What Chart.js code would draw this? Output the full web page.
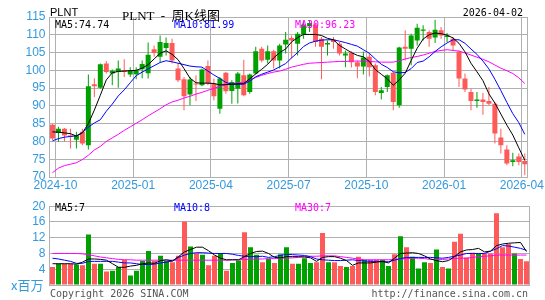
<!DOCTYPE html>
<html lang="zh-CN">
<head>
<meta charset="UTF-8" />
<title>PLNT 周K线图</title>
<script src="https://cdn.jsdelivr.net/npm/chart.js"></script>
<style>
  html, body { margin: 0; padding: 0; background: #fff; }
  #box { position: relative; width: 545px; height: 300px; overflow: hidden; }
  #box canvas { position: absolute; left: 0; }
  #kline { top: 0; }
  #vol { top: 195px; }
  .txt { position: absolute; white-space: pre; line-height: 1; font: 10px 'DejaVu Sans Mono', monospace; color: #000; }
  .blue { color: #0000ff; }
  .pink { color: #ff00ff; }
  .grey { color: #555; }
</style>
</head>
<body>
<div id="box">
  <canvas id="kline" width="545" height="195"></canvas>
  <canvas id="vol" width="545" height="105"></canvas>

  <div class="txt" style="left:50px; top:6px; font:11px 'Liberation Sans', sans-serif;">PLNT</div>
  <div class="txt" style="left:122px; top:4.5px; font:13px 'Liberation Serif', 'Noto Sans CJK SC', serif;">PLNT  -  周K线图</div>
  <div class="txt" style="right:22px; top:6.5px;">2026-04-02</div>

  <div class="txt" style="left:55px; top:19px;">MA5:74.74</div>
  <div class="txt blue" style="left:174px; top:19px;">MA10:81.99</div>
  <div class="txt pink" style="left:295px; top:19px;">MA30:96.23</div>

  <div class="txt" style="left:55px; top:201.5px;">MA5:7</div>
  <div class="txt blue" style="left:174px; top:201.5px;">MA10:8</div>
  <div class="txt pink" style="left:295px; top:201.5px;">MA30:7</div>

  <div class="txt" style="left:11px; top:275px; font:13px 'Noto Sans CJK SC', sans-serif; color:#3399dd;">x百万</div>
  <div class="txt grey" style="left:50px; top:287.5px;">Copyright 2026 SINA.COM</div>
  <div class="txt grey" style="right:17px; top:287.5px;">http://finance.sina.com.cn</div>
</div>

<script>
  // weekly candles, 2024-09-27 .. 2026-04-02 (one entry per week)
  const opens  = [84.7,82.4,83.6,81.7,80.5,82.7,78.9,96.1,95.1,101.9,
                  99.1,99.5,100.0,98.8,98.9,100.3,99.2,105.9,103.8,106.3,
                  107.7,100.5,97.5,93.2,96.3,95.8,101.2,96.3,89.2,99.3,
                  94.2,94.8,98.6,93.9,99.1,106.1,103.0,105.4,102.8,107.3,
                  109.1,107.5,110.1,112.4,112.9,108.9,107.3,108.6,107.5,104.2,
                  104.9,102.3,101.1,103.8,101.4,93.6,95.3,99.3,90.2,106.6,
                  106.1,108.4,111.1,110.8,109.2,111.3,109.4,108.9,105.2,97.7,
                  93.9,91.4,91.8,91.4,90.6,81.1,77.7,74.2,75.8,74.5];
  const highs  = [84.9,84.1,83.8,83.6,82.7,83.6,98.8,97.8,101.9,102.6,
                  100.2,102.8,103.1,100.9,100.9,102.8,107.8,107.0,109.8,109.2,
                  108.9,102.0,98.1,98.1,98.6,100.5,102.8,97.7,98.1,99.5,
                  97.2,99.5,103.0,99.1,106.6,106.6,107.0,105.8,107.5,110.8,
                  109.8,110.8,113.6,114.0,113.3,109.4,108.4,109.4,108.0,105.6,
                  105.4,102.8,105.3,104.9,101.9,95.3,98.8,99.5,106.6,111.3,
                  110.3,113.1,112.7,111.3,114.2,112.2,110.5,109.4,105.6,99.1,
                  94.8,93.9,93.6,95.3,91.1,83.6,78.9,76.8,76.6,76.6];
  const lows   = [80.5,79.9,79.9,78.0,78.0,78.9,77.7,92.5,94.8,99.1,
                  95.8,95.1,98.1,98.1,97.5,97.8,97.7,103.8,102.3,104.2,
                  101.9,96.7,88.8,90.2,91.4,95.5,95.8,91.6,87.8,93.4,
                  90.6,90.7,92.7,93.4,98.8,102.3,101.9,100.5,100.5,104.7,
                  103.3,104.2,108.9,110.8,106.6,97.5,104.2,106.1,104.2,100.9,
                  100.8,97.8,98.8,98.3,93.0,91.8,93.9,88.8,89.5,102.8,
                  101.4,107.0,108.4,106.6,107.7,108.9,108.0,105.6,95.3,93.9,
                  88.8,89.5,87.5,90.2,79.4,76.6,73.3,73.0,73.3,70.5];
  const closes = [80.8,83.6,81.7,81.3,81.7,79.4,95.5,95.5,101.7,99.5,
                  99.9,100.5,99.5,100.0,100.0,101.8,104.4,104.9,108.0,107.7,
                  102.8,97.2,92.7,97.4,96.0,100.2,96.3,92.7,97.7,94.1,
                  96.7,99.1,93.0,98.8,105.4,102.8,105.4,102.8,107.0,108.6,
                  108.4,110.3,112.9,113.3,108.0,106.6,107.7,108.0,104.7,104.7,
                  102.3,101.1,103.6,100.9,93.9,94.4,98.6,91.1,106.4,106.1,
                  109.8,112.0,111.5,108.9,111.4,109.8,109.8,107.0,97.7,94.6,
                  91.4,91.8,91.1,90.6,82.2,78.9,73.8,74.7,74.2,73.6];

  // moving averages as drawn on the picture
  const ma5  = [82.7,82.6,82.4,82.2,81.5,82.4,85.0,88.8,93.0,97.3,
                99.3,99.7,99.8,99.9,100.0,100.6,101.6,103.2,104.8,105.5,
                104.5,103.0,100.5,97.8,96.5,96.4,96.4,96.3,95.9,96.0,
                96.1,96.2,96.3,97.6,99.0,100.3,101.7,103.5,105.0,106.0,
                108.0,109.2,110.1,110.1,110.1,109.8,109.0,108.6,107.0,106.0,
                105.0,104.2,103.8,102.5,100.2,98.9,97.6,95.8,97.3,99.2,
                102.8,106.2,108.8,110.0,110.5,110.3,109.9,109.1,107.6,105.2,
                102.0,99.6,97.1,93.4,90.8,87.7,84.6,81.8,78.2,74.7];
  const ma10 = [80.2,80.8,81.2,81.4,81.6,82.5,84.0,85.2,86.1,88.5,
                90.5,92.8,94.5,96.5,98.5,99.5,100.4,101.3,102.2,102.7,
                102.4,102.0,101.6,101.2,101.0,100.9,99.8,98.7,97.7,96.6,
                96.1,96.1,96.1,97.0,98.2,98.9,99.5,100.1,101.0,101.9,
                103.5,105.0,106.7,107.7,108.2,108.5,108.6,108.6,108.2,107.8,
                107.3,106.8,105.8,104.8,103.2,101.7,100.8,99.6,99.3,99.4,
                100.5,102.2,102.6,103.8,105.3,106.6,107.7,108.6,108.6,107.6,
                106.0,104.5,102.6,100.4,97.5,94.3,91.0,87.8,85.3,82.0];
  const ma30 = [71.2,72.5,73.2,73.6,74.0,74.9,76.1,77.6,78.6,80.0,
                81.0,82.0,83.1,84.1,85.1,86.1,87.2,88.2,89.2,90.3,
                91.1,91.6,92.2,92.7,93.3,93.8,94.4,94.9,95.5,95.9,
                96.2,96.5,96.6,97.2,98.0,98.6,99.1,99.5,99.8,100.3,
                100.9,101.3,101.7,102.0,102.1,102.2,102.3,102.4,102.5,102.5,
                102.6,102.6,102.6,102.5,102.4,102.3,102.3,102.3,102.7,103.2,
                103.6,103.9,104.3,104.8,105.3,105.6,105.8,105.6,105.4,104.9,
                104.3,103.7,103.1,102.4,101.5,100.6,99.9,99.1,97.9,96.3];

  // weekly volume, millions of shares
  const volume = [4.6,5.4,5.4,5.4,5.2,5.0,12.8,5.4,5.4,3.4,
                  3.6,4.6,6.4,2.4,3.6,6.1,8.6,6.1,7.4,6.1,
                  5.8,7.4,16.1,9.8,8.1,7.7,5.0,7.4,8.1,3.6,
                  5.6,6.2,13.4,9.6,7.7,5.8,6.6,5.6,7.8,9.6,
                  5.4,5.4,6.8,5.6,5.8,13.2,5.8,5.8,4.8,4.6,
                  4.8,7.2,6.4,6.4,6.4,6.4,4.8,7.8,12.4,9.6,
                  7.2,4.2,5.8,5.6,9.0,4.6,4.2,11.0,13.0,7.0,
                  8.2,8.0,8.0,8.0,18.2,9.6,10.4,8.0,6.6,6.0];
  const vma5  = [5.4,5.4,5.4,5.4,5.3,5.8,6.6,6.6,6.5,6.3,
                 5.4,4.5,4.5,4.8,5.0,5.4,5.6,5.5,6.2,6.4,
                 6.1,7.2,8.4,9.0,9.6,9.6,8.7,7.6,6.8,6.4,
                 6.4,6.4,7.2,8.0,8.5,8.6,8.0,7.0,6.9,7.2,
                 7.2,7.2,7.1,6.9,6.0,7.0,7.2,7.2,6.8,6.2,
                 5.0,5.6,5.6,5.6,5.8,6.0,5.6,6.8,8.0,8.1,
                 8.2,8.0,7.4,6.6,6.2,5.9,6.2,7.2,8.4,8.9,
                 9.0,9.3,8.4,8.6,10.0,10.4,10.6,10.7,10.8,8.5];
  const vma10 = [6.8,6.6,6.3,6.0,5.5,5.5,6.0,6.0,6.0,6.0,
                 6.0,5.8,5.6,5.6,5.4,5.2,5.2,5.3,5.6,5.8,
                 6.1,7.0,7.6,8.0,8.2,8.2,8.1,8.0,8.0,8.0,
                 7.8,7.5,7.3,7.2,7.2,7.3,7.0,7.2,7.5,7.8,
                 7.7,7.6,7.5,7.2,6.6,6.4,6.3,6.2,6.2,6.3,
                 6.4,6.2,6.1,6.0,6.0,5.9,5.9,6.3,6.7,7.0,
                 7.0,7.0,7.0,7.0,6.9,6.8,7.0,7.3,7.6,8.0,
                 8.0,8.0,8.0,8.6,9.2,10.0,9.9,9.6,9.3,8.8];
  const vma30 = [8.0,8.0,8.0,8.0,8.0,7.9,7.7,7.4,7.1,6.9,
                 6.7,6.5,6.4,6.4,6.3,6.3,6.3,6.3,6.3,6.3,
                 6.3,6.3,6.3,6.3,6.3,6.3,6.3,6.3,6.3,6.3,
                 6.4,6.4,6.5,6.5,6.6,6.6,6.7,6.7,6.8,6.8,
                 6.9,7.0,7.2,7.3,7.3,7.4,7.4,7.4,7.2,7.0,
                 6.8,6.6,6.4,6.4,6.4,6.4,6.4,6.5,6.6,6.7,
                 6.8,6.8,6.7,6.5,6.5,6.5,6.6,6.7,6.8,6.8,
                 7.0,7.2,7.3,7.4,7.6,7.6,7.6,7.6,7.6,7.6];

  // first week of each quarter and its label
  const quarterStartWeek = [1, 14, 27, 40, 53, 66, 79];
  const quarterLabels = ['2024-10', '2025-01', '2025-04', '2025-07', '2025-10', '2026-01', '2026-04'];

  const UP = '#00a000';
  const DOWN = '#ff5a5a';
  const GRID = '#b0b0b0';
  const AXIS_BLUE = '#3399dd';

  const weekIdx = closes.map((_, i) => i);
  const candleColor = weekIdx.map(i => closes[i] >= opens[i] ? UP : DOWN);

  function maLine(values, color) {
    return {
      type: 'line',
      data: values.map((v, i) => ({ x: i, y: v })),
      borderColor: color,
      borderWidth: 1,
      pointRadius: 0,
      tension: 0
    };
  }

  // grey box round the plot area
  const frame = {
    id: 'frame',
    afterDraw(chart) {
      const a = chart.chartArea;
      const ctx = chart.ctx;
      ctx.save();
      ctx.strokeStyle = GRID;
      ctx.lineWidth = 1;
      ctx.strokeRect(Math.floor(a.left) + 0.5, Math.floor(a.top) + 0.5,
                     Math.round(a.right - a.left), Math.round(a.bottom - a.top));
      ctx.restore();
    }
  };

  function xScale(showLabels) {
    return {
      type: 'linear',
      min: -0.5,
      max: weekIdx.length - 0.5,
      offset: false,
      afterBuildTicks: s => { s.ticks = quarterStartWeek.map(w => ({ value: w - 0.5 })); },
      afterFit: s => { s.height = showLabels ? 18 : 0; },
      grid: { display: showLabels, color: GRID, drawTicks: false, offset: false },
      border: { display: false },
      ticks: {
        display: showLabels,
        autoSkip: false,
        maxRotation: 0,
        padding: 1,
        color: AXIS_BLUE,
        font: { family: 'Liberation Sans', size: 12 },
        callback: (v, i) => quarterLabels[i]
      }
    };
  }

  function yScale(min, max, step, hideZero) {
    return {
      min: min,
      max: max,
      afterFit: s => { s.width = 49.5; },
      grid: { color: GRID, drawTicks: false },
      border: { display: false },
      ticks: {
        stepSize: step,
        autoSkip: false,
        padding: 4,
        color: AXIS_BLUE,
        font: { family: 'Liberation Sans', size: 12 },
        callback: v => (hideZero && v === 0) ? '' : v
      }
    };
  }

  const common = {
    responsive: false,
    animation: false,
    events: [],
    plugins: { legend: { display: false }, tooltip: { enabled: false } }
  };

  new Chart(document.getElementById('kline'), {
    type: 'bar',
    data: {
      datasets: [
        maLine(ma5, '#000000'),
        maLine(ma10, '#0000ff'),
        maLine(ma30, '#ff00ff'),
        {
          // wicks
          data: weekIdx.map(i => ({ x: i, y: [lows[i], highs[i]] })),
          backgroundColor: candleColor,
          grouped: false,
          categoryPercentage: 1,
          barPercentage: 1 / 6
        },
        {
          // bodies
          data: weekIdx.map(i => ({ x: i, y: [opens[i], closes[i]] })),
          backgroundColor: candleColor,
          grouped: false,
          categoryPercentage: 1,
          barPercentage: 5 / 6,
          minBarLength: 1
        }
      ]
    },
    options: {
      ...common,
      layout: { padding: { top: 17, right: 15.5, left: 0, bottom: 0 } },
      scales: { x: xScale(true), y: yScale(70, 115, 5, false) }
    },
    plugins: [frame]
  });

  new Chart(document.getElementById('vol'), {
    type: 'bar',
    data: {
      datasets: [
        maLine(vma5, '#000000'),
        maLine(vma10, '#0000ff'),
        maLine(vma30, '#ff00ff'),
        {
          data: weekIdx.map(i => ({ x: i, y: volume[i] })),
          backgroundColor: candleColor,
          grouped: false,
          categoryPercentage: 1,
          barPercentage: 5 / 6
        }
      ]
    },
    options: {
      ...common,
      layout: { padding: { top: 7, right: 15.5, left: 0, bottom: 15 } },
      scales: { x: xScale(false), y: yScale(0, 20, 4, true) }
    },
    plugins: [frame]
  });
</script>
</body>
</html>
